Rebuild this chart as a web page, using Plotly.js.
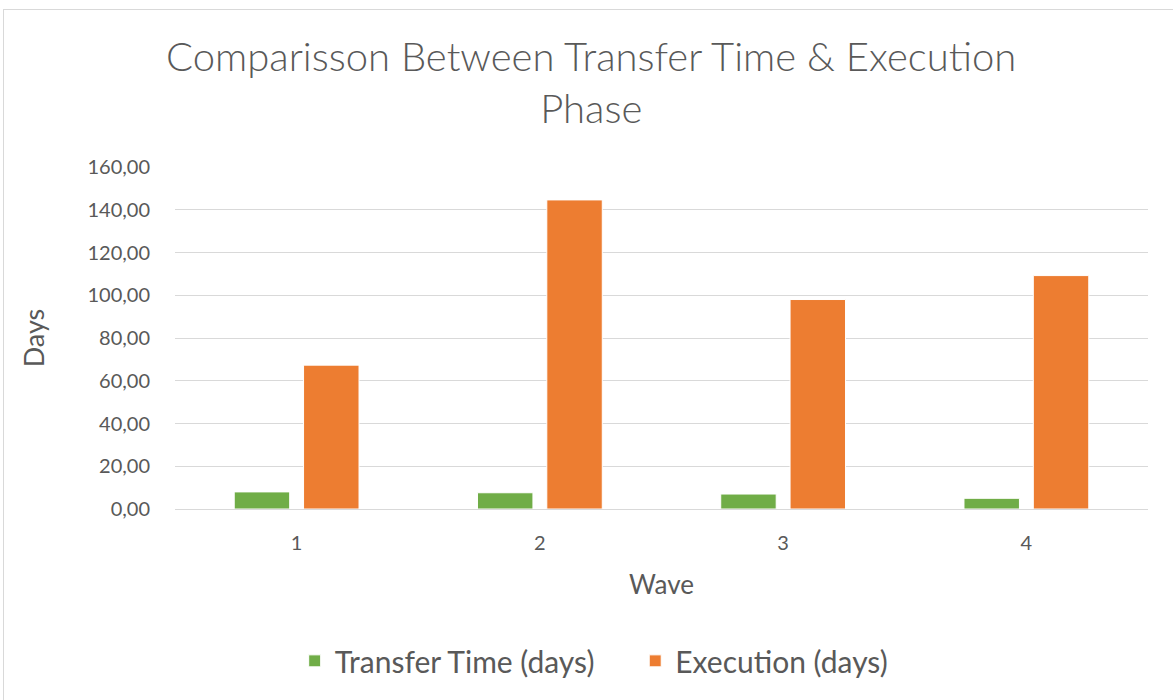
<!DOCTYPE html>
<html>
<head>
<meta charset="utf-8">
<script src="https://cdn.plot.ly/plotly-3.0.1.min.js"></script>
<style>
html,body{margin:0;padding:0;background:#fff;}
#chart{position:absolute;left:0;top:0;width:1173px;height:700px;}
#frame{position:absolute;left:3px;top:9px;width:1180px;height:700px;border:1px solid #d9d9d9;pointer-events:none;}
</style>
</head>
<body>
<div id="chart"></div>
<div id="frame"></div>
<script>
const waves = ['1', '2', '3', '4'];
const transferTime = [8.0, 7.6, 7.0, 5.0];
const execution = [67.3, 144.6, 98.0, 109.2];
const seriesNames = ['Transfer Time (days)', 'Execution (days)'];
const yTicks = [0, 20, 40, 60, 80, 100, 120, 140, 160];

const fontFam = 'Lato, "Open Sans", sans-serif';
const textColor = '#595959';

const traces = [
  {type: 'bar', x: waves, y: transferTime, name: seriesNames[0], legend: 'legend',
   marker: {color: '#70AD47', line: {color: '#ffffff', width: 1}}, hoverinfo: 'y'},
  {type: 'bar', x: waves, y: execution, name: seriesNames[1], legend: 'legend2',
   marker: {color: '#ED7D31', line: {color: '#ffffff', width: 1}}, hoverinfo: 'y'}
];

const legendBase = {
  orientation: 'h', xanchor: 'left', y: -0.444, yanchor: 'middle',
  font: {size: 30, color: textColor}, itemwidth: 30, bgcolor: 'rgba(0,0,0,0)'
};

const layout = {
  width: 1173, height: 700,
  paper_bgcolor: '#ffffff', plot_bgcolor: '#ffffff',
  separators: ',.',
  margin: {l: 175, r: 25, t: 167, b: 191, pad: 0},
  barmode: 'group', bargap: 0.43, bargroupgap: 0.2,
  font: {family: fontFam, color: textColor},
  title: {
    text: 'Comparisson Between Transfer Time &amp; Execution<br>Phase',
    font: {family: fontFam, size: 40, color: textColor, weight: 300},
    x: 0.504, xanchor: 'center', y: 0.898, yanchor: 'middle'
  },
  xaxis: {
    type: 'category',
    title: {text: 'Wave', font: {size: 26, color: textColor}, standoff: 22},
    tickfont: {size: 20, color: textColor},
    showgrid: false, showline: true, linecolor: '#d9d9d9', linewidth: 1,
    ticks: '', ticklen: 0, zeroline: false, ticklabelstandoff: 16
  },
  yaxis: {
    title: {text: 'Days', font: {size: 27, color: textColor}, standoff: 35},
    range: [0, 160], tickvals: yTicks, tickformat: '.2f',
    tickfont: {size: 20, color: textColor},
    showgrid: true, gridcolor: '#d9d9d9', gridwidth: 1,
    zeroline: false, showline: false, ticks: '', ticklabelstandoff: 24
  },
  legend: Object.assign({}, legendBase, {x: 0.123}),
  legend2: Object.assign({}, legendBase, {x: 0.473}),
  showlegend: true
};

Plotly.newPlot('chart', traces, layout, {displayModeBar: false, staticPlot: true});
</script>
</body>
</html>
